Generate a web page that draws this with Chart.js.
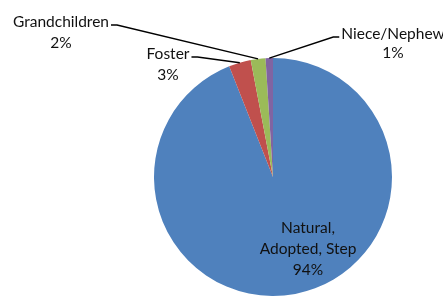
<!DOCTYPE html>
<html>
<head>
<meta charset="utf-8">
<script src="https://cdn.jsdelivr.net/npm/chart.js@4/dist/chart.umd.min.js"></script>
<style>
  html, body { margin: 0; padding: 0; background: #fff; }
  #wrap { width: 443px; height: 296px; position: relative; }
</style>
</head>
<body>
<div id="wrap"><canvas id="pieChart" width="443" height="296"></canvas></div>
<script>
// data
const categories = ["Natural, Adopted, Step", "Foster", "Grandchildren", "Niece/Nephew"];
const shares = [94, 3, 2, 1];
const sliceColors = ["#4F81BD", "#C0504D", "#9BBB59", "#8064A2"];

// where each data label sits (text lines, centre x, first baseline y) and
// which side the leader line leaves from. null = label sits inside the slice
const LABELS = [
  { lines: ["Natural,", "Adopted, Step", "94%"], x: 308, y: 233, lh: 21, leader: null },
  { lines: ["Foster", "3%"], x: 168, y: 59, lh: 21, leader: "right" },
  { lines: ["Grandchildren", "2%"], x: 61, y: 27, lh: 21, leader: "right" },
  { lines: ["Niece/Nephew", "1%"], x: 393, y: 39, lh: 19, leader: "left" },
];
const FONT = "15.5px Lato";

const labelPlugin = {
  id: "excelLabels",
  afterDatasetsDraw(chart) {
    const ctx = chart.ctx;
    const arcs = chart.getDatasetMeta(0).data;
    ctx.save();
    ctx.font = FONT;
    ctx.textAlign = "center";
    ctx.textBaseline = "alphabetic";
    LABELS.forEach((lab, i) => {
      ctx.fillStyle = "#111";
      lab.lines.forEach((t, k) => ctx.fillText(t, lab.x, lab.y + k * lab.lh));
      if (!lab.leader) return;
      const a = arcs[i];
      const mid = (a.startAngle + a.endAngle) / 2;
      const ex = a.x + Math.cos(mid) * a.outerRadius;
      const ey = a.y + Math.sin(mid) * a.outerRadius;
      const w = ctx.measureText(lab.lines[0]).width;
      const ly = lab.y - 2;
      const sx = lab.leader === "right" ? lab.x + w / 2 + 2 : lab.x - w / 2 - 2;
      const kx = lab.leader === "right" ? sx + 6 : sx - 6;
      ctx.strokeStyle = "#000";
      ctx.lineWidth = 1.4;
      ctx.beginPath();
      ctx.moveTo(sx, ly);
      ctx.lineTo(kx, ly);
      ctx.lineTo(ex, ey);
      ctx.stroke();
    });
    ctx.restore();
  },
};

new Chart(document.getElementById("pieChart"), {
  type: "pie",
  data: {
    labels: categories,
    datasets: [{
      data: shares,
      backgroundColor: sliceColors,
      borderWidth: 0,
    }],
  },
  options: {
    responsive: false,
    animation: false,
    layout: { padding: { left: 154, right: 51, top: 58, bottom: 0 } },
    plugins: {
      legend: { display: false },
      tooltip: { enabled: false },
    },
  },
  plugins: [labelPlugin],
});
</script>
</body>
</html>
